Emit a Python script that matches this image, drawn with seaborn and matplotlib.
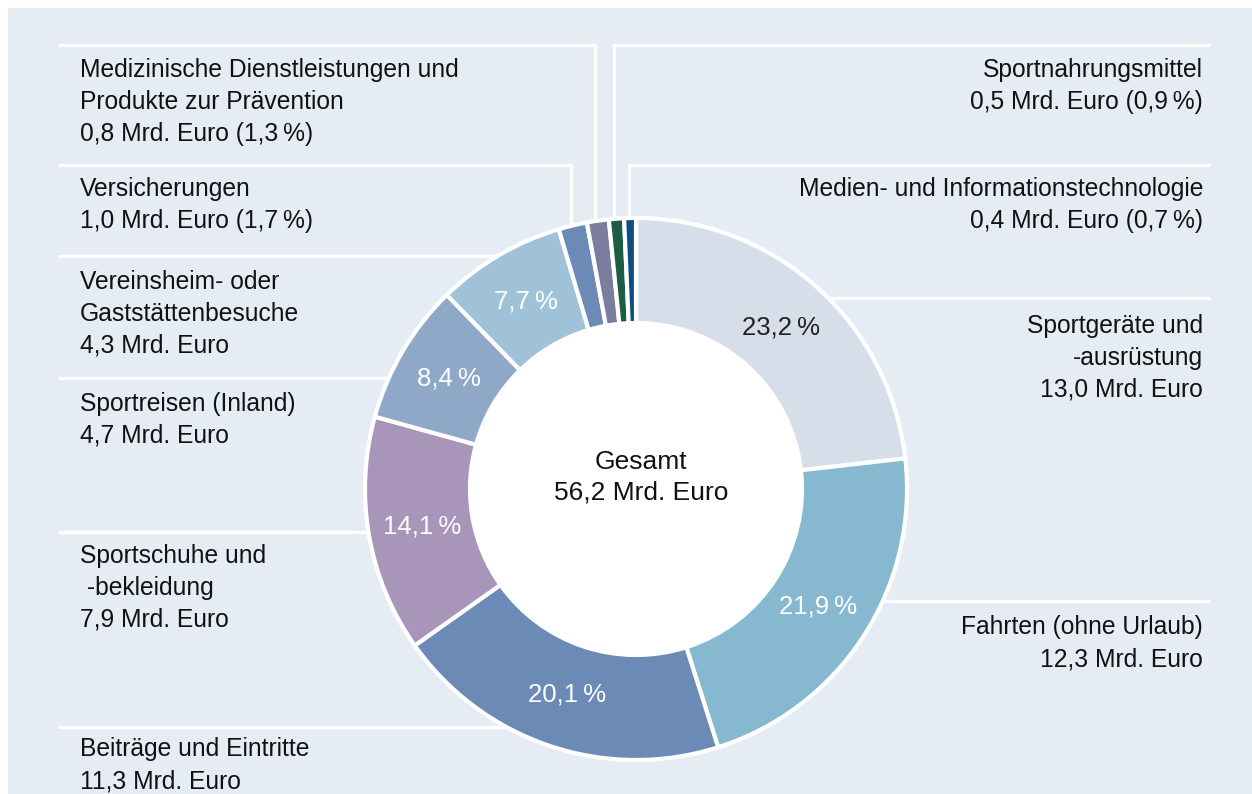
import matplotlib
matplotlib.use("Agg")
import matplotlib.pyplot as plt
from matplotlib.patches import Rectangle, Circle
import numpy as np
import seaborn as sns

# Sportkonsum nach Bereichen (clockwise from 12 o'clock)
segments = [
    "Sportgeräte und\n-ausrüstung",
    "Fahrten (ohne Urlaub)",
    "Beiträge und Eintritte",
    "Sportschuhe und\n -bekleidung",
    "Sportreisen (Inland)",
    "Vereinsheim- oder\nGaststättenbesuche",
    "Versicherungen",
    "Medizinische Dienstleistungen und\nProdukte zur Prävention",
    "Sportnahrungsmittel",
    "Medien- und Informationstechnologie",
]
spend_bn = [13.0, 12.3, 11.3, 7.9, 4.7, 4.3, 1.0, 0.8, 0.5, 0.4]
share_pct = [23.2, 21.9, 20.1, 14.1, 8.4, 7.7, 1.7, 1.3, 0.9, 0.7]
total_bn = 56.2

colors = ["#D6DFE9", "#86B8D0", "#6B8AB6", "#A895B9", "#8FA8C8",
          "#9FC2D8", "#6B8AB6", "#7B7D9E", "#1B5E45", "#0E4D82"]

sns.set_theme(style="white")
plt.rcParams["font.family"] = ["Liberation Sans", "DejaVu Sans"]


def de(x):
    return f"{x:.1f}".replace(".", ",")


fig = plt.figure(figsize=(12.52, 7.94), dpi=100)
ax = fig.add_axes([0, 0, 1, 1])

cx, cy, r_out, r_in = 636, 489, 271, 166

# panel background
ax.add_patch(Rectangle((8, 8), 1244, 786, color="#E5ECF4", zorder=0))

# leader lines (drawn under the ring)
leaders = [
    [(58, 45), (595, 45), (595, 300)],
    [(1210, 45), (614, 45), (614, 300)],
    [(58, 165), (571, 165), (571, 300)],
    [(1210, 165), (629, 165), (629, 300)],
    [(58, 256), (cx, 256)],
    [(58, 378), (cx, 378)],
    [(58, 532), (cx, 532)],
    [(58, 727), (cx, 727)],
    [(1210, 298), (cx, 298)],
    [(1210, 601), (cx, 601)],
]
for pts in leaders:
    xs, ys = zip(*pts)
    ax.plot(xs, ys, color="white", lw=2.4, zorder=1, solid_capstyle="butt")

# y axis is inverted below, so start at -90 and go counterclockwise in data = clockwise on screen
wedges, _ = ax.pie(share_pct, colors=colors, startangle=-90, counterclock=True,
                   center=(cx, cy), radius=r_out,
                   wedgeprops=dict(width=r_out - r_in, edgecolor="white",
                                   linewidth=3, zorder=2))
ax.add_patch(Circle((cx, cy), r_in, color="white", zorder=3))

# percent labels on the larger wedges
for w, p in zip(wedges, share_pct):
    if p < 5:
        continue
    mid = np.deg2rad((w.theta1 + w.theta2) / 2)
    r = 217
    ax.text(cx + r * np.cos(mid), cy + r * np.sin(mid), f"{de(p)}\u2009%",
            ha="center", va="center", fontsize=18.5,
            color="#222222" if p > 22 else "white", zorder=4)

ax.text(641, 477, f"Gesamt\n{de(total_bn)} Mrd. Euro", ha="center", va="center",
        fontsize=19, linespacing=1.35, color="#111111", zorder=4)

# outside labels: x, baseline of first line, alignment
label_pos = [
    (1203, 333, "right"),
    (1203, 634, "right"),
    (80, 756, "left"),
    (80, 563, "left"),
    (80, 411, "left"),
    (80, 289, "left"),
    (80, 196, "left"),
    (80, 77, "left"),
    (1203, 77, "right"),
    (1203, 196, "right"),
]
line_step = 32
for name, val, p, (x, y, ha) in zip(segments, spend_bn, share_pct, label_pos):
    value_line = f"{de(val)} Mrd. Euro"
    if p < 5:
        value_line += f" ({de(p)}\u2009%)"
    for i, line in enumerate(name.split("\n") + [value_line]):
        ax.text(x, y + i * line_step, line, ha=ha, va="baseline",
                fontsize=17.7, color="#111111", zorder=4)

ax.set_xlim(0, 1252)
ax.set_ylim(794, 0)
ax.set_aspect("equal")
ax.axis("off")

fig.savefig("out.png", dpi=100, facecolor="white")
